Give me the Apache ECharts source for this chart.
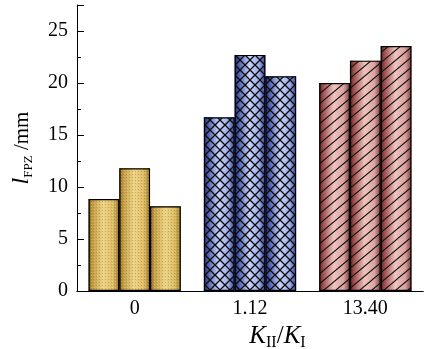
<!DOCTYPE html>
<html>
<head>
<meta charset="utf-8">
<script src="https://cdn.jsdelivr.net/npm/echarts@6/dist/echarts.min.js"></script>
<style>
  html, body { margin: 0; padding: 0; background: #fff; }
  #chart { width: 424px; height: 349px; }
</style>
</head>
<body>
<div id="chart"></div>
<script>
// Loading ratio categories (K_II / K_I)
const categories = ['0', '1.12', '13.40'];
// FPZ length (mm) for the three specimens of each loading ratio
const specimen1 = [8.85, 16.7, 20.0];
const specimen2 = [11.8, 22.7, 22.15];
const specimen3 = [8.15, 20.65, 23.55];
// Y tick values that carry labels
const yTickLabels = [0, 5, 10, 15, 20, 25];

const FONT = 'Liberation Serif';

// Cylinder-style shading per category
function shade(stops) {
  return {
    type: 'linear', x: 0, y: 0, x2: 1, y2: 0,
    colorStops: stops.map((c, i) => ({ offset: [0, 0.12, 0.48, 0.8, 1][i], color: c }))
  };
}
const shades = [
  shade(['#7a5a14', '#c09a40', '#ecd486', '#dcbc64', '#9a7828']),
  shade(['#1c2a78', '#4858a8', '#c8d4fb', '#9cace6', '#2e3e90']),
  shade(['#5c1c1c', '#9a4c4c', '#f0c4c0', '#d8a2a0', '#7a3838'])
];

// Hatch textures drawn on small canvases
function tile(w, h, draw) {
  const c = document.createElement('canvas');
  c.width = w; c.height = h;
  const ctx = c.getContext('2d');
  draw(ctx, w, h);
  return c;
}
const dotsTile = tile(3, 3, (ctx) => {
  ctx.fillStyle = 'rgba(150,95,20,0.35)';
  ctx.fillRect(0, 0, 1, 1);
  ctx.fillStyle = 'rgba(255,245,200,0.3)';
  ctx.fillRect(1, 2, 1, 1);
});
const crossTile = tile(10, 10, (ctx, w, h) => {
  ctx.strokeStyle = '#0a0a0a';
  ctx.lineWidth = 1.3;
  ctx.beginPath();
  ctx.moveTo(-1, -1); ctx.lineTo(w + 1, h + 1);
  ctx.moveTo(-1, h + 1); ctx.lineTo(w + 1, -1);
  ctx.stroke();
});
const slashTile = tile(12, 10, (ctx, w, h) => {
  ctx.strokeStyle = '#111';
  ctx.lineWidth = 1.1;
  const k = h / w;
  ctx.beginPath();
  ctx.moveTo(-2, h + 2 * k); ctx.lineTo(w + 2, -2 * k);
  ctx.moveTo(-2, 2 * k); ctx.lineTo(2, -2 * k);
  ctx.moveTo(w - 2, h + 2 * k); ctx.lineTo(w + 2, h - 2 * k);
  ctx.stroke();
});
const textures = [dotsTile, crossTile, slashTile].map(img => ({ image: img, repeat: 'repeat' }));

const specimens = [specimen1, specimen2, specimen3];

const baseSeries = specimens.map(vals => ({
  type: 'bar', xAxisIndex: 0, yAxisIndex: 0,
  barGap: '0%', barCategoryGap: '20%',
  silent: true,
  data: vals.map((v, i) => ({ value: v, itemStyle: { color: shades[i] } }))
}));
const textureSeries = specimens.map(vals => ({
  type: 'bar', xAxisIndex: 1, yAxisIndex: 0,
  barGap: '0%', barCategoryGap: '20%',
  silent: true,
  data: vals.map((v, i) => ({
    value: v,
    itemStyle: { color: textures[i], borderColor: '#000', borderWidth: 1.2 }
  }))
}));

const chart = echarts.init(document.getElementById('chart'));
chart.setOption({
  animation: false,
  backgroundColor: '#fff',
  grid: { left: 77, right: 1, top: 5, bottom: 58, containLabel: false, outerBoundsMode: 'none' },
  xAxis: [
    {
      type: 'category', data: categories, position: 'bottom',
      axisLine: { lineStyle: { color: '#000', width: 1 } },
      axisTick: { show: false },
      axisLabel: { color: '#000', fontSize: 20, fontFamily: FONT, margin: 8 },
      name: '{k|K}{sub|II}{s|/}{k|K}{sub|I}',
      nameLocation: 'middle', nameGap: 29,
      nameTextStyle: {
        padding: [0, 0, 0, 55],
        rich: {
          k: { fontSize: 25, fontStyle: 'italic', fontFamily: FONT, color: '#000', lineHeight: 28 },
          s: { fontSize: 25, fontFamily: FONT, color: '#000', lineHeight: 28 },
          sub: { fontSize: 16, fontFamily: FONT, color: '#000', lineHeight: 16, verticalAlign: 'bottom' }
        }
      }
    },
    {
      type: 'category', data: categories, position: 'top',
      axisLine: { lineStyle: { color: '#000', width: 1 } },
      axisTick: { show: false },
      axisLabel: { show: false }
    }
  ],
  yAxis: [
    {
      type: 'value', min: 0, max: 27.5, interval: 5, position: 'left',
      axisLine: { show: true, lineStyle: { color: '#000', width: 1 } },
      axisTick: { show: true, inside: true, length: 7, lineStyle: { color: '#000' } },
      splitLine: { show: false },
      axisLabel: {
        color: '#000', fontSize: 20, fontFamily: FONT, margin: 9,
        formatter: v => (yTickLabels.includes(v) ? String(v) : '')
      },
      name: '{l|l}{sub|FPZ}{u| /mm}',
      nameLocation: 'middle', nameGap: 42,
      nameTextStyle: {
        rich: {
          l: { fontSize: 24, fontStyle: 'italic', fontFamily: FONT, color: '#000', lineHeight: 26 },
          u: { fontSize: 21, fontFamily: FONT, color: '#000', lineHeight: 26 },
          sub: { fontSize: 13, fontFamily: FONT, color: '#000', lineHeight: 14, verticalAlign: 'bottom' }
        }
      }
    },
    {
      type: 'value', min: 0, max: 27.5, interval: 2.5, position: 'left',
      axisLine: { show: false },
      axisTick: { show: true, inside: true, length: 4, lineStyle: { color: '#000' } },
      splitLine: { show: false },
      axisLabel: { show: false }
    }
  ],
  series: baseSeries.concat(textureSeries)
});
</script>
</body>
</html>
